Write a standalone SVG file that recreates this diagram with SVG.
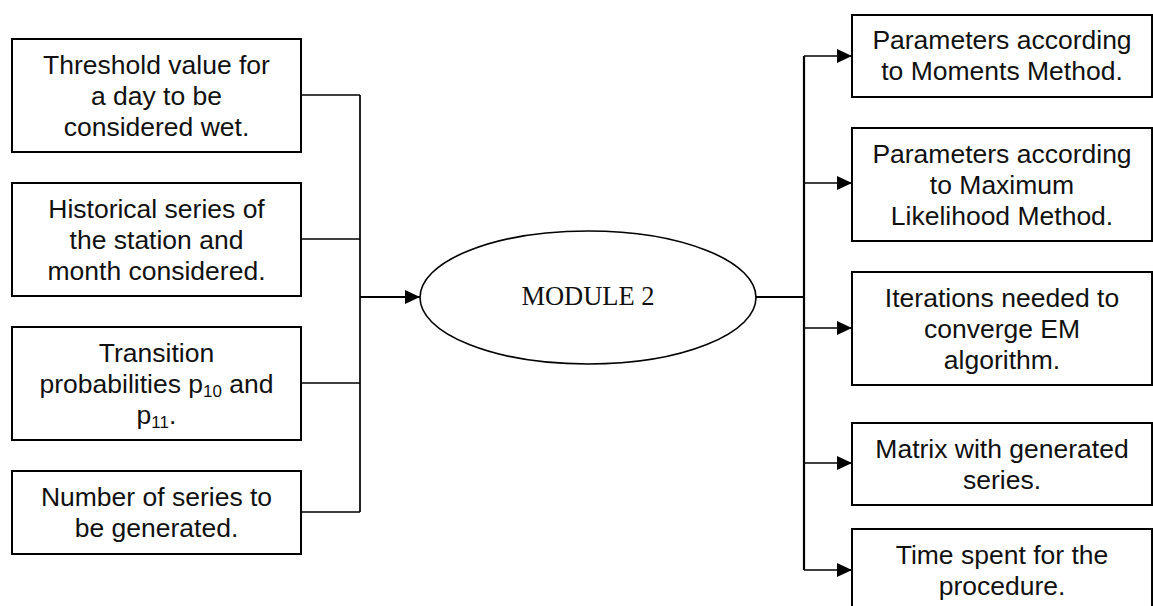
<svg xmlns="http://www.w3.org/2000/svg" width="1153" height="606" viewBox="0 0 1153 606">
  <defs>
    <marker id="arrow" markerUnits="userSpaceOnUse" markerWidth="16" markerHeight="14" refX="15" refY="7" orient="auto">
      <path d="M0,0 L15,7 L0,14 Z" fill="#000"/>
    </marker>
    <style>
      .box { fill: #fff; stroke: #000; stroke-width: 2; }
      .lbl { font-family: "Liberation Sans", Arial, sans-serif; font-size: 26.5px; fill: #111; text-anchor: middle; }
      .sub { font-size: 17px; }
      .wire { fill: none; stroke: #000; stroke-width: 1.7; }
      .main { fill: none; stroke: #000; stroke-width: 2.2; }
      .module { fill: #fff; stroke: #000; stroke-width: 1.6; }
      .mtxt { font-family: "Liberation Serif", "Times New Roman", serif; font-size: 26.5px; fill: #111; text-anchor: middle; }
    </style>
  </defs>
  <rect width="1153" height="606" fill="#fff"/>

  <!-- connectors -->
  <g id="connectors">
    <path class="wire" d="M301,95 H360 M301,239 H360 M301,383 H360 M301,512 H360 M360,95 V512"/>
    <path class="main" d="M360,297 H420" marker-end="url(#arrow)"/>
    <path class="main" d="M756,297 H804 M804,56 V570"/>
    <path class="wire" d="M804,56 H852" marker-end="url(#arrow)"/>
    <path class="wire" d="M804,183 H852" marker-end="url(#arrow)"/>
    <path class="wire" d="M804,328 H852" marker-end="url(#arrow)"/>
    <path class="wire" d="M804,463 H852" marker-end="url(#arrow)"/>
    <path class="wire" d="M804,570 H852" marker-end="url(#arrow)"/>
  </g>

  <!-- inputs -->
  <g id="in-threshold">
    <rect class="box" x="12" y="39" width="289" height="113"/>
    <text class="lbl" x="156.5" y="74">Threshold value for</text>
    <text class="lbl" x="156.5" y="105">a day to be</text>
    <text class="lbl" x="156.5" y="136">considered wet.</text>
  </g>
  <g id="in-historical">
    <rect class="box" x="12" y="183" width="289" height="113"/>
    <text class="lbl" x="156.5" y="218">Historical series of</text>
    <text class="lbl" x="156.5" y="249">the station and</text>
    <text class="lbl" x="156.5" y="280">month considered.</text>
  </g>
  <g id="in-transition">
    <rect class="box" x="12" y="327" width="289" height="113"/>
    <text class="lbl" x="156.5" y="362">Transition</text>
    <text class="lbl" x="156.5" y="393">probabilities p<tspan class="sub" dy="4">10</tspan><tspan dy="-4"> and</tspan></text>
    <text class="lbl" x="156.5" y="424">p<tspan class="sub" dy="4">11</tspan><tspan dy="-4">.</tspan></text>
  </g>
  <g id="in-number">
    <rect class="box" x="12" y="471" width="289" height="83"/>
    <text class="lbl" x="156.5" y="505.5">Number of series to</text>
    <text class="lbl" x="156.5" y="536.5">be generated.</text>
  </g>

  <!-- central module -->
  <g id="module2">
    <ellipse class="module" cx="588" cy="297.5" rx="168" ry="66.5"/>
    <text class="mtxt" x="588" y="305">MODULE 2</text>
  </g>

  <!-- outputs -->
  <g id="out-moments">
    <rect class="box" x="852" y="15" width="300" height="82"/>
    <text class="lbl" x="1002" y="49">Parameters according</text>
    <text class="lbl" x="1002" y="80">to Moments Method.</text>
  </g>
  <g id="out-likelihood">
    <rect class="box" x="852" y="128" width="300" height="113"/>
    <text class="lbl" x="1002" y="163">Parameters according</text>
    <text class="lbl" x="1002" y="194">to Maximum</text>
    <text class="lbl" x="1002" y="225">Likelihood Method.</text>
  </g>
  <g id="out-iterations">
    <rect class="box" x="852" y="272" width="300" height="113"/>
    <text class="lbl" x="1002" y="307">Iterations needed to</text>
    <text class="lbl" x="1002" y="338">converge EM</text>
    <text class="lbl" x="1002" y="369">algorithm.</text>
  </g>
  <g id="out-matrix">
    <rect class="box" x="852" y="423" width="300" height="82"/>
    <text class="lbl" x="1002" y="457.5">Matrix with generated</text>
    <text class="lbl" x="1002" y="488.5">series.</text>
  </g>
  <g id="out-time">
    <rect class="box" x="852" y="529" width="300" height="83"/>
    <text class="lbl" x="1002" y="564">Time spent for the</text>
    <text class="lbl" x="1002" y="595">procedure.</text>
  </g>
</svg>
